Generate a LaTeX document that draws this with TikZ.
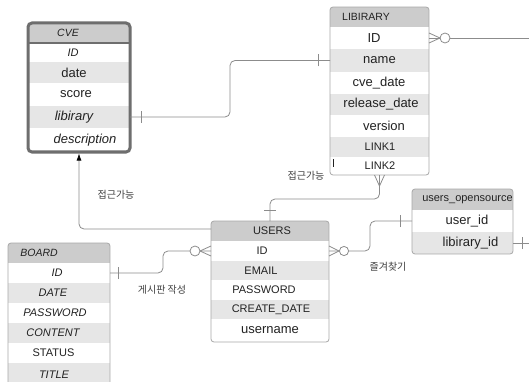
\documentclass[tikz,border=0pt]{standalone}
\usepackage{fontspec}
\setmainfont{Liberation Sans}
\newfontfamily\krfont{Noto Sans CJK KR}
\usetikzlibrary{arrows.meta}

\definecolor{hdrgray}{HTML}{CCCCCC}
\definecolor{rowgray}{HTML}{E6E6E6}
\definecolor{edgegray}{HTML}{A8A8A8}
\definecolor{cveedge}{HTML}{6E6E6E}
\definecolor{linegray}{HTML}{8C8C8C}
\definecolor{txtdark}{HTML}{222222}

\newcommand\fHdr{\fontsize{10.5}{12}\selectfont}
\newcommand\fMid{\fontsize{11}{13}\selectfont}
\newcommand\fBig{\fontsize{13}{15}\selectfont}

% one table row: name, x1, x2, y1, y2, fill, text x, font, text
\newcommand\erCell[9]{%
  \node[cellbox, fill=#6, minimum width={(#3-#2)*1pt}, minimum height={(#5-#4)*1pt}]
    (#1) at ({(#2+#3)/2},{(#4+#5)/2}) {};
  \node[celltext, font=#8] (#1-t) at (#7,{(#4+#5)/2}) {#9};
}

\tikzset{
  cellbox/.style={draw=none, inner sep=0pt, outer sep=0pt},
  celltext/.style={inner sep=0pt, text=txtdark},
  tblborder/.style={draw=edgegray, line width=0.8pt, rounded corners=3pt},
  conn/.style={draw=linegray, line width=0.8pt, rounded corners=5pt},
  tick/.style={draw=linegray, line width=0.8pt},
  ring/.style={draw=linegray, line width=0.8pt, fill=white},
  lbl/.style={inner sep=0pt, text=black!75, font=\krfont\fontsize{10}{12}\selectfont},
}

\begin{document}
\begin{tikzpicture}[x=1pt, y=-1pt]
\useasboundingbox[fill=white] (0,0) rectangle (529,382);

% ---- CVE ----
\begin{scope}
  \clip[rounded corners=4pt] (28,23) rectangle (130,152);
  \erCell{cve-hdr}{28}{130}{23}{43}{hdrgray}{68}{\fHdr\itshape}{CVE}
  \erCell{cve-id}{28}{130}{43}{62}{white}{73}{\fMid\itshape}{ID}
  \erCell{cve-date}{28}{130}{62}{83}{rowgray}{74}{\fBig}{date}
  \erCell{cve-score}{28}{130}{83}{106}{white}{76}{\fBig}{score}
  \erCell{cve-lib}{28}{130}{106}{128}{rowgray}{74}{\fBig\itshape}{libirary}
  \erCell{cve-desc}{28}{130}{128}{152}{white}{85}{\fBig\itshape}{description}
\end{scope}
\draw[cveedge, line width=1.2pt] (cve-hdr.south west) -- (cve-hdr.south east);
\draw[draw=cveedge, line width=3pt, rounded corners=4pt] (28,23) rectangle (130,152);

% ---- LIBIRARY ----
\begin{scope}
  \clip[rounded corners=3pt] (330,7) rectangle (429,175);
  \erCell{lib-hdr}{330}{429}{7}{27}{hdrgray}{366}{\fHdr}{LIBIRARY}
  \erCell{lib-id}{330}{429}{27}{49}{white}{374}{\fBig}{ID}
  \erCell{lib-name}{330}{429}{49}{72}{rowgray}{379.5}{\fBig}{name}
  \erCell{lib-cve}{330}{429}{72}{94}{white}{379}{\fBig}{cve\_date}
  \erCell{lib-rel}{330}{429}{94}{115}{rowgray}{381}{\fBig}{release\_date}
  \erCell{lib-ver}{330}{429}{115}{137}{white}{384}{\fBig}{version}
  \erCell{lib-l1}{330}{429}{137}{157}{rowgray}{380}{\fMid}{LINK1}
  \erCell{lib-link2}{330}{429}{157}{175}{white}{380}{\fMid}{LINK2}
\end{scope}
\draw[tblborder] (330,7) rectangle (429,175);
\draw[txtdark, line width=0.9pt] (333,159) -- (333,167);

% ---- USERS ----
\begin{scope}
  \clip[rounded corners=3pt] (211,221) rectangle (329,342);
  \erCell{users-hdr}{211}{329}{221}{241}{hdrgray}{272}{\fMid}{USERS}
  \erCell{users-id}{211}{329}{241}{261}{white}{262}{\fMid}{ID}
  \erCell{users-email}{211}{329}{261}{280}{rowgray}{261}{\fMid}{EMAIL}
  \erCell{users-pw}{211}{329}{280}{300}{white}{264}{\fMid}{PASSWORD}
  \erCell{users-cd}{211}{329}{300}{319}{rowgray}{271}{\fMid}{CREATE\_DATE}
  \erCell{users-un}{211}{329}{319}{342}{white}{270}{\fBig}{username}
\end{scope}
\draw[tblborder] (211,221) rectangle (329,342);

% ---- users_opensource ----
\begin{scope}
  \clip[rounded corners=3pt] (412,189) rectangle (513,254);
  \erCell{uo-hdr}{412}{513}{189}{210}{hdrgray}{467.5}{\fMid}{users\_opensource}
  \erCell{uo-uid}{412}{513}{210}{232}{white}{467}{\fBig}{user\_id}
  \erCell{uo-lid}{412}{513}{232}{254}{rowgray}{470.5}{\fBig}{libirary\_id}
\end{scope}
\draw[tblborder] (412,189) rectangle (513,254);

% ---- BOARD ----
\begin{scope}
  \clip[rounded corners=3pt] (8,243) rectangle (110,386);
  \erCell{board-hdr}{8}{110}{243}{263}{hdrgray}{39}{\fHdr\itshape}{BOARD}
  \erCell{board-id}{8}{110}{263}{283}{white}{57}{\fMid\itshape}{ID}
  \erCell{board-date}{8}{110}{283}{303}{rowgray}{53}{\fMid\itshape}{DATE}
  \erCell{board-pw}{8}{110}{303}{323}{white}{55}{\fMid\itshape}{PASSWORD}
  \erCell{board-ct}{8}{110}{323}{343}{rowgray}{53}{\fMid\itshape}{CONTENT}
  \erCell{board-st}{8}{110}{343}{363}{white}{53.5}{\fMid}{STATUS}
  \erCell{board-ti}{8}{110}{363}{386}{rowgray}{54}{\fMid\itshape}{TITLE}
\end{scope}
\draw[tblborder] (8,243) rectangle (110,386);

% ---- bend points and free ends ----
\coordinate (k1) at (230,90);
\coordinate (k3) at (163,262);
\coordinate (k4) at (370,236);
\coordinate (k5) at (325,199);
\coordinate (e1) at (529,38);
\coordinate (e2) at (529,243);

% CVE.libirary -- LIBIRARY.name
\draw[conn] (cve-lib.east) -| (k1) |- (lib-name.west);
\draw[tick] ([xshift=11pt,yshift=-6pt]cve-lib.east) -- ([xshift=11pt,yshift=6pt]cve-lib.east);
\draw[tick] ([xshift=-12pt,yshift=-6pt]lib-name.west) -- ([xshift=-12pt,yshift=6pt]lib-name.west);

% USERS -> CVE
\draw[conn, -{Latex[length=7pt,width=5pt,color=black]}]
  ([yshift=2pt]users-hdr.west) -| ([yshift=-1.5pt]cve-desc.south);

% BOARD.ID -- USERS.ID
\draw[conn] (board-id.east) -| (k3) |- (users-id.west);
\draw[tick] ([xshift=8pt,yshift=-6pt]board-id.east) -- ([xshift=8pt,yshift=6pt]board-id.east);
\draw[tick] ([xshift=-11pt]users-id.west) -- ([yshift=5pt]users-id.west)
            ([xshift=-11pt]users-id.west) -- ([yshift=-5pt]users-id.west);
\draw[ring] ([xshift=-16pt]users-id.west) circle (5pt);

% USERS.ID -- users_opensource.user_id
\draw[conn] (users-id.east) -| (k4) |- (uo-uid.west);
\draw[tick] ([xshift=10pt]users-id.east) -- ([yshift=5pt]users-id.east)
            ([xshift=10pt]users-id.east) -- ([yshift=-5pt]users-id.east);
\draw[ring] ([xshift=15pt]users-id.east) circle (4.6pt);
\draw[tick] ([xshift=-12pt,yshift=-6pt]uo-uid.west) -- ([xshift=-12pt,yshift=6pt]uo-uid.west);

% USERS -- LIBIRARY (bottom)
\draw[conn] (users-hdr.north) |- (k5) -| (lib-link2.south);
\draw[tick] ([xshift=-6pt,yshift=11pt]users-hdr.north) -- ([xshift=6pt,yshift=11pt]users-hdr.north);
\draw[tick] ([yshift=-11pt]lib-link2.south) -- ([xshift=-5pt]lib-link2.south)
            ([yshift=-11pt]lib-link2.south) -- ([xshift=5pt]lib-link2.south);

% LIBIRARY.ID -- off to the right
\draw[conn] (lib-id.east) -- (lib-id.east -| e1);
\draw[tick] ([xshift=11pt]lib-id.east) -- ([yshift=5pt]lib-id.east)
            ([xshift=11pt]lib-id.east) -- ([yshift=-5pt]lib-id.east);
\draw[ring] ([xshift=16pt]lib-id.east) circle (5pt);

% users_opensource.libirary_id -- off to the right
\draw[conn] (uo-lid.east) -- (uo-lid.east -| e2);
\draw[tick] ([xshift=9pt,yshift=-6pt]uo-lid.east) -- ([xshift=9pt,yshift=6pt]uo-lid.east);

% relationship labels
\node[lbl] (acc1) at (116,195) {접근가능};
\node[lbl] (acc2) at (306,176) {접근가능};
\node[lbl] (post) at (162,290) {게시판 작성};
\node[lbl] (fav)  at (388,267) {즐겨찾기};
\end{tikzpicture}
\end{document}
